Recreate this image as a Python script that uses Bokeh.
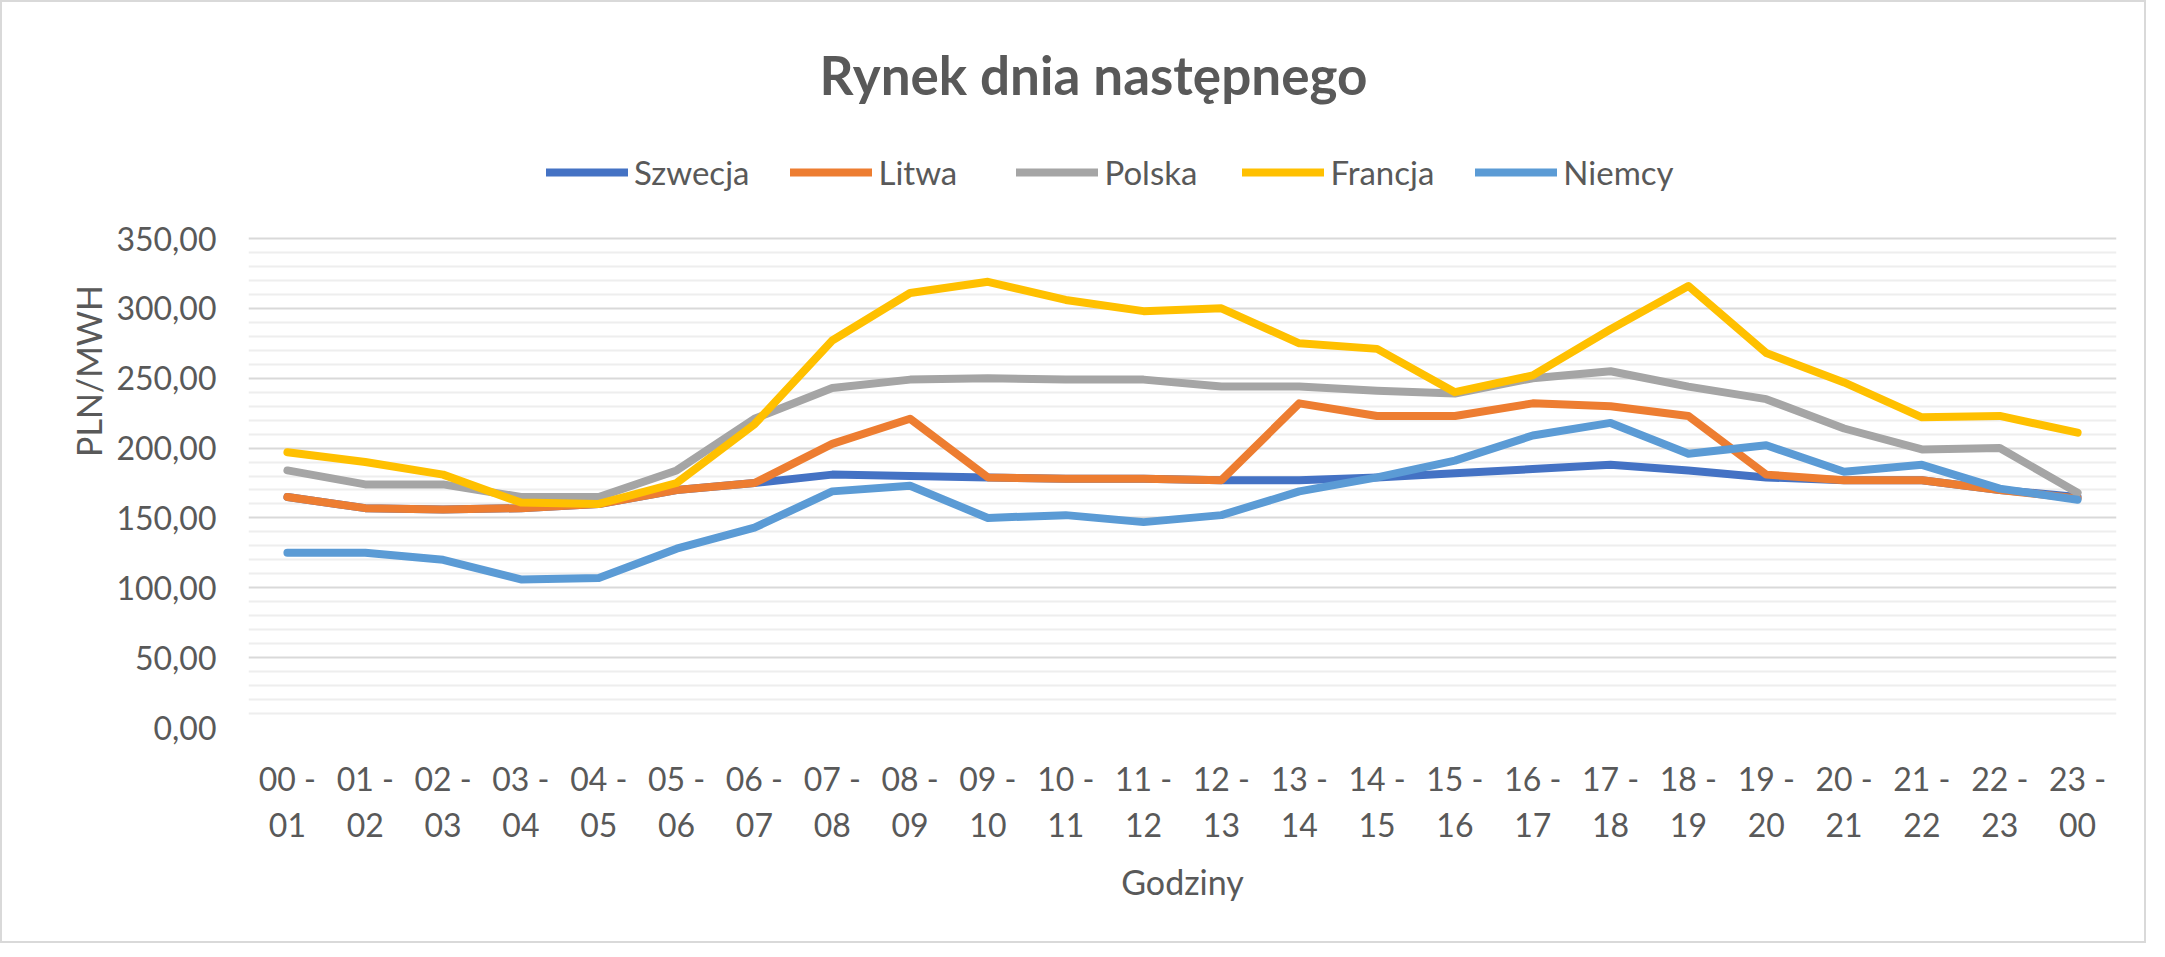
from bokeh.plotting import figure
from bokeh.models import FactorRange, Range1d, FixedTicker, Legend, LegendItem, Label
from bokeh.embed import file_html
from bokeh.resources import INLINE

hours = ["00 -\n01", "01 -\n02", "02 -\n03", "03 -\n04", "04 -\n05", "05 -\n06",
         "06 -\n07", "07 -\n08", "08 -\n09", "09 -\n10", "10 -\n11", "11 -\n12",
         "12 -\n13", "13 -\n14", "14 -\n15", "15 -\n16", "16 -\n17", "17 -\n18",
         "18 -\n19", "19 -\n20", "20 -\n21", "21 -\n22", "22 -\n23", "23 -\n00"]

szwecja = [165, 157, 156, 157, 160, 170, 175, 181, 180, 179, 178, 178,
           177, 177, 179, 182, 185, 188, 184, 179, 177, 177, 170, 165]
litwa = [165, 157, 156, 157, 160, 170, 175, 203, 221, 179, 178, 178,
         177, 232, 223, 223, 232, 230, 223, 181, 177, 177, 170, 164]
polska = [184, 174, 174, 165, 165, 184, 221, 243, 249, 250, 249, 249,
          244, 244, 241, 239, 250, 255, 244, 235, 214, 199, 200, 168]
francja = [197, 190, 181, 161, 160, 175, 217, 277, 311, 319, 306, 298,
           300, 275, 271, 240, 252, 285, 316, 268, 247, 222, 223, 211]
niemcy = [125, 125, 120, 106, 107, 128, 143, 169, 173, 150, 152, 147,
          152, 169, 179, 191, 209, 218, 196, 202, 183, 188, 171, 163]

series_names = ["Szwecja", "Litwa", "Polska", "Francja", "Niemcy"]
series_colors = ["#4472C4", "#ED7D31", "#A5A5A5", "#FFC000", "#5B9BD5"]
series_values = [szwecja, litwa, polska, francja, niemcy]

y_ticks = [0, 50, 100, 150, 200, 250, 300, 350]
y_tick_labels = ["0,00", "50,00", "100,00", "150,00", "200,00", "250,00", "300,00", "350,00"]
y_minor = [10, 20, 30, 40, 60, 70, 80, 90, 110, 120, 130, 140, 160, 170, 180, 190,
           210, 220, 230, 240, 260, 270, 280, 290, 310, 320, 330, 340]
y_max_tick = 350

title_text = "Rynek dnia następnego"
x_title = "Godziny"
y_title = "PLN/MWH"

FONT = "Lato"
TXT = "#595959"

# layout (pixels): the value grid spans GRID_H px; the frame is extended upward
# so that the title and legend (drawn inside the frame) are not clipped
W, H = 2146, 943
B_LEFT, B_RIGHT, B_TOP, B_BOTTOM = 246, 32, 12, 218
GRID_H = 489
frame_h = H - B_TOP - B_BOTTOM
y_end = y_max_tick * frame_h / GRID_H

p = figure(width=W, height=H,
           x_range=FactorRange(factors=hours, range_padding=0),
           y_range=Range1d(0, y_end),
           output_backend="svg", toolbar_location=None,
           min_border_left=B_LEFT, min_border_right=B_RIGHT,
           min_border_top=B_TOP, min_border_bottom=B_BOTTOM)
p.styles = {"border": "2px solid #D9D9D9"}
p.outline_line_color = None
p.background_fill_color = "white"
p.border_fill_color = "white"

renderers = []
for name, col, vals in zip(series_names, series_colors, series_values):
    r = p.line(x=hours, y=vals, line_color=col, line_width=8,
               line_join="round", line_cap="round")
    renderers.append(r)

# axes
p.xgrid.grid_line_color = None
p.yaxis.ticker = FixedTicker(ticks=y_ticks, minor_ticks=y_minor)
p.yaxis.major_label_overrides = dict(zip(y_ticks, y_tick_labels))
p.ygrid.grid_line_color = "#D9D9D9"
p.ygrid.grid_line_width = 2
p.ygrid.minor_grid_line_color = "#EEEEEE"
p.ygrid.minor_grid_line_width = 2

for ax in (p.xaxis[0], p.yaxis[0]):
    ax.axis_line_color = None
    ax.major_tick_line_color = None
    ax.minor_tick_line_color = None
    ax.major_tick_out = 0
    ax.major_tick_in = 0
    ax.minor_tick_out = 0
    ax.minor_tick_in = 0
    ax.major_label_text_font = FONT
    ax.major_label_text_font_size = "32px"
    ax.major_label_text_color = TXT
    ax.axis_label_text_font = FONT
    ax.axis_label_text_font_size = "34px"
    ax.axis_label_text_font_style = "normal"
    ax.axis_label_text_color = TXT

p.yaxis.major_label_standoff = 32
p.yaxis.axis_label = y_title
p.yaxis.axis_label_standoff = 4
p.xaxis.major_label_standoff = 31
p.xaxis.major_label_text_line_height = 1.2
p.xaxis.axis_label = x_title
p.xaxis.axis_label_standoff = 14

legend = Legend(items=[LegendItem(label=n, renderers=[r]) for n, r in zip(series_names, renderers)],
                orientation="horizontal", location=(298, 535),
                glyph_width=82, glyph_height=30, label_height=30, label_width=97,
                label_standoff=6, spacing=41, padding=0, margin=0,
                border_line_color=None, background_fill_alpha=0,
                label_text_font=FONT, label_text_font_size="33px",
                label_text_color=TXT)
p.add_layout(legend)

p.add_layout(Label(x=845, y=653, x_units="screen", y_units="screen",
                   text=title_text, text_align="center", text_baseline="middle",
                   text_font=FONT, text_font_size="53px", text_font_style="bold",
                   text_color=TXT))

open("out.html", "w").write(file_html(p, INLINE))
